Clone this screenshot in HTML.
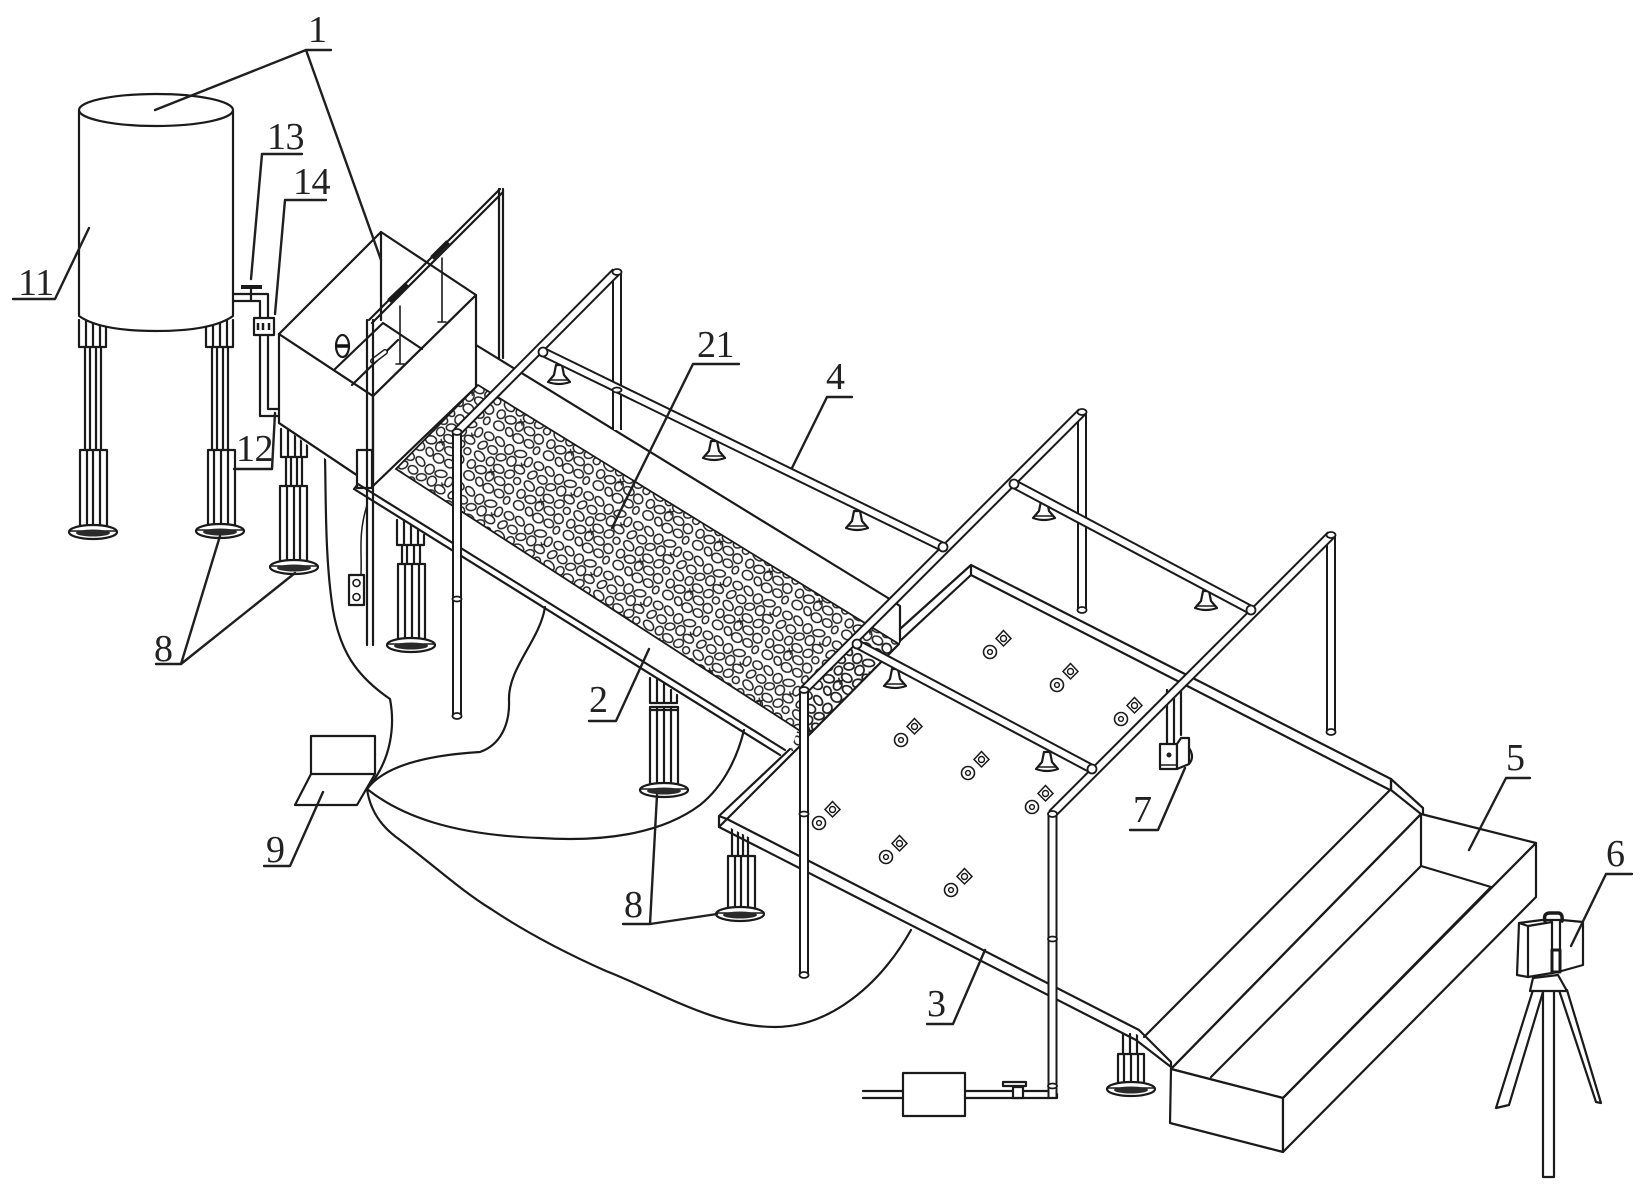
<!DOCTYPE html>
<html><head><meta charset="utf-8"><style>
html,body{margin:0;padding:0;background:#fff}
svg{display:block;filter:blur(.35px)}
text{font-family:"Liberation Serif",serif;font-size:38px;fill:#222;letter-spacing:-.5px}
.l{fill:none;stroke:#1a1a1a;stroke-width:2.200;stroke-linecap:round;stroke-linejoin:round}
.t{fill:none;stroke:#1a1a1a;stroke-width:1.600;stroke-linecap:round;stroke-linejoin:round}
.w{fill:#fff;stroke:#1a1a1a;stroke-width:2.200;stroke-linejoin:round}
.ld{fill:none;stroke:#1f1f1f;stroke-width:2.400;stroke-linecap:round;stroke-linejoin:round}
</style></head><body>
<svg width="1646" height="1192" viewBox="0 0 1646 1192" xmlns="http://www.w3.org/2000/svg">
<defs>
<pattern id="st" width="58" height="58" patternUnits="userSpaceOnUse" patternTransform="rotate(31)">
<g fill="none" stroke="#222" stroke-width="1.500">
<ellipse cx="6" cy="6" rx="5" ry="4"/><ellipse cx="18" cy="5" rx="5.500" ry="3.500" transform="rotate(20 18 5)"/><ellipse cx="30" cy="7" rx="4.500" ry="5"/><ellipse cx="42" cy="5" rx="6" ry="3.500" transform="rotate(-25 42 5)"/><ellipse cx="53" cy="8" rx="3.500" ry="5"/>
<ellipse cx="5" cy="17" rx="3.500" ry="5" transform="rotate(30 5 17)"/><ellipse cx="16" cy="16" rx="5" ry="4"/><ellipse cx="27" cy="18" rx="5" ry="3.500" transform="rotate(-35 27 18)"/><ellipse cx="38" cy="16" rx="4.500" ry="5"/><ellipse cx="49" cy="19" rx="5.500" ry="4"/>
<ellipse cx="8" cy="28" rx="6" ry="4" transform="rotate(15 8 28)"/><ellipse cx="20" cy="27" rx="4" ry="4.500"/><ellipse cx="31" cy="29" rx="5.500" ry="4"/><ellipse cx="43" cy="28" rx="4" ry="5" transform="rotate(40 43 28)"/><ellipse cx="53" cy="30" rx="3.500" ry="3.500"/>
<ellipse cx="5" cy="39" rx="4" ry="4.500"/><ellipse cx="16" cy="39" rx="5.500" ry="4" transform="rotate(-20 16 39)"/><ellipse cx="27" cy="40" rx="4" ry="5"/><ellipse cx="38" cy="39" rx="5.500" ry="4"/><ellipse cx="50" cy="41" rx="5" ry="4.500" transform="rotate(25 50 41)"/>
<ellipse cx="9" cy="50" rx="5.500" ry="4.500"/><ellipse cx="21" cy="50" rx="4.500" ry="3.500" transform="rotate(35 21 50)"/><ellipse cx="32" cy="51" rx="5.500" ry="4.500"/><ellipse cx="44" cy="50" rx="5" ry="4"/><ellipse cx="54" cy="52" rx="3" ry="4"/>
</g>
<path d="M24 33l5 5M29 33l-5 5M47 12l4 4M51 12l-4 4" stroke="#222" stroke-width="1.300"/>
</pattern>
<g id="foot"><ellipse cx="0" cy="0" rx="24" ry="7" fill="#fff" stroke="#1a1a1a" stroke-width="2.200"/><path d="M-24-1H24" stroke="#1a1a1a" stroke-width="1.500"/><ellipse cx="0" cy="1" rx="17" ry="3.500" fill="#2a2a2a"/></g>
<g id="spr"><path d="M-3-13H3L5-3 11 4Q0 8-11 4L-5-3Z" fill="#fff" stroke="#1a1a1a" stroke-width="2.200" stroke-linejoin="round"/><path d="M-10 2H10" stroke="#1a1a1a" stroke-width="1.500"/></g>
<g id="sen"><circle r="6.500" fill="#fff" stroke="#1a1a1a" stroke-width="1.600"/><circle r="2.400" fill="none" stroke="#1a1a1a" stroke-width="1.400"/><path d="M13.500-21.500L21-13.500 13.500-6 6-13.500Z" fill="#fff" stroke="#1a1a1a" stroke-width="1.500"/><circle cx="13.500" cy="-13.500" r="3" fill="none" stroke="#1a1a1a" stroke-width="1.400"/></g>
<g id="pa"><path d="M543 352L943 547"/><path d="M857 644L1092 769"/><path d="M1014 484L1251 610"/></g>
<g id="pb"><path d="M457 432L616 272"/><path d="M804 690L1082 412"/><path d="M1052 814L1331 535"/></g>
<g id="pv"><path d="M457 432V716"/><path d="M617 272V430"/><path d="M1082 412V610"/><path d="M1331 535V732"/><path d="M804 690V975"/><path d="M1052.500 814V1098"/></g>
</defs>
<rect width="1646" height="1192" fill="#fff"/>

<!-- legs -->
<g class="l">
<path d="M79 320V347H106V320M86 320V347M93 320V347M100 320V347M85 347V450M90 347V450M96 347V450M101 347V450M80 450H107V528H80ZM87 450V528M93 450V528M100 450V528"/>
<path d="M206 320V347H233V320M213 320V347M220 320V347M227 320V347M212 347V450M217 347V450M223 347V450M228 347V450M208 450H235V528H208ZM214 450V528M221 450V528M228 450V528"/>
<path d="M281 429V457H307V429M288 429V457M295 429V457M301 429V457M286 457V486M291 457V486M297 457V486M302 457V486M280 486H307V562H280ZM287 486V562M294 486V562M300 486V562"/>
<path d="M397 520V545H424V535M404 520V545M411 525V545M418 530V545M402 545V564M407 545V564M414 545V564M420 545V564M398 564H425V640H398ZM405 564V640M412 564V640M419 564V640"/>
<path d="M650 678V703H677V695M657 680V703M664 684V703M671 690V703M650 707H678V785H650ZM650 710H678M657 707V785M664 707V785M671 707V785"/>
<path d="M732 825V856M738 828V856M743 832V856M748 835V856M728 856H755V909H728ZM735 856V909M741 856V909M748 856V909"/>
<path d="M1123 1034V1054M1130 1034V1054M1137 1034V1054M1118 1054H1144V1086H1118ZM1124 1054V1086M1131 1054V1086M1138 1054V1086"/>
</g>
<use href="#foot" x="93" y="532"/><use href="#foot" x="220" y="531"/><use href="#foot" x="294" y="567"/><use href="#foot" x="411" y="645"/><use href="#foot" x="664" y="790"/><use href="#foot" x="740" y="914"/><use href="#foot" x="1131" y="1089"/>

<!-- tank -->
<path class="w" d="M79 110V316Q100 331 156 331Q212 331 233 316V110Z"/>
<ellipse class="w" cx="156" cy="110" rx="77" ry="16"/>

<!-- water pipes -->
<g class="l">
<path d="M233 294H268V409H279M233 301H260V416H279"/>
<path d="M251 287V300"/>
</g>
<path d="M241 287H262" stroke="#1a1a1a" stroke-width="4"/>
<rect class="w" x="254" y="318" width="20" height="17"/>
<path d="M258 323v7M263 323v7M269 323v7" stroke="#1a1a1a" stroke-width="2.500"/>

<!-- wires -->
<g class="l">
<path d="M325 457C326 500 325 560 333 610C340 650 355 675 390 699C395 725 392 760 367 789"/>
<path d="M367 789C385 765 430 755 480 752C500 745 510 725 509 700C508 668 540 640 545 607"/>
<path d="M367 789C400 815 450 835 540 838C600 842 660 835 700 805C725 785 738 755 744 730"/>
<path d="M367 789C370 810 380 825 396 837C430 862 460 890 491 909C530 935 570 955 606 971C660 992 715 1027 775 1027C830 1027 880 985 911 930"/>
<path d="M361 574C362 550 358 535 367 505" stroke-width="1.500"/>
</g>

<!-- channel -->
<polygon points="279,423 476,345 888,598 900,606 900,644 808,736 784,751 358,484" fill="#fff"/>
<polygon points="478,385 899,644 808,736 396,469" fill="url(#st)" stroke="#1a1a1a" stroke-width="1.800"/>
<path class="l" d="M476 345L888 598"/>
<path class="l" d="M888 598L900 606V644"/>

<!-- box -->
<polygon class="w" points="279,334 373,396 373,486 279,423"/>
<polygon class="w" points="373,396 476,295 476,387 373,486"/>
<polygon class="w" points="279,334 381,232 476,295 373,396"/>
<path class="l" d="M335 369L383 323L422 349M352 385L398 340M381 232V320"/>
<path class="t" d="M400 306V364M442 258V322M396 364H404M438 322H446"/>
<ellipse class="w" cx="342.500" cy="346" rx="6.500" ry="11" stroke-width="1.500"/><path d="M336 346H349" stroke="#111" stroke-width="3.500"/>
<path d="M373 361L385 352" stroke="#1a1a1a" stroke-width="6" stroke-linecap="round"/><path d="M373 361L385 352" stroke="#fff" stroke-width="3" stroke-linecap="round"/>
<path class="l" d="M279 423L373 486"/>
<path d="M499 189V358M503 189V358" class="l"/>
<path d="M369 320L500 189M372 323L503 192" class="l" stroke-width="2.500"/>
<path d="M389 301L407 284M432 258L448 242" stroke="#1a1a1a" stroke-width="5"/>

<rect class="w" x="357" y="450" width="15" height="38"/>
<path class="l" d="M354 489L780 755M358 484L785 750M354 489L358 484"/>
<path d="M367 320V645M373 320V645" class="l" stroke-width="2.600"/>
<rect class="w" x="349" y="575" width="15" height="30"/>
<circle cx="356.500" cy="583" r="3.500" class="t"/><circle cx="356.500" cy="597" r="3.500" class="t"/>

<!-- plate 3 -->
<polygon points="719,822 801,748 808,736 899,644 971,575 1390,790 1171,1067 1140,1036" fill="#fff"/>
<polygon points="899,644 808,736 801,748 790,752 808,700 860,640" fill="url(#st)" stroke="none"/>
<path class="l" d="M899 644L808 736"/>
<path class="l" d="M719 816L790 749M727 819L799 747M719 816V827L727 819M719 816L727 819"/>
<path class="l" d="M727 819L1139 1030L1171 1062V1067M719 827L1136 1040L1171 1067"/>
<path class="l" d="M900 629L971 565L1391 779V790L1421 814M901 640L971 575L1390 790M971 565V575M1391 779L1423 808V814"/>

<!-- basin -->
<polygon class="w" points="1171,1069 1283,1098 1536,843 1421,814"/>
<polygon class="w" points="1171,1069 1283,1098 1283,1152 1170,1123"/>
<polygon class="w" points="1283,1098 1536,843 1536,897 1283,1152"/>
<path class="l" d="M1390 790L1144 1037M1421 814L1171 1069M1421 814V866L1211 1077M1421 866L1491 887L1283 1098"/>
<path class="l" d="M1391 779V790"/>

<!-- sensors -->
<use href="#sen" x="990" y="652"/><use href="#sen" x="1057" y="685"/><use href="#sen" x="1121" y="719"/>
<use href="#sen" x="901" y="740"/><use href="#sen" x="968" y="773"/><use href="#sen" x="1032" y="807"/>
<use href="#sen" x="819" y="823"/><use href="#sen" x="886" y="857"/><use href="#sen" x="951" y="890"/>

<!-- camera 7 support -->
<path class="l" d="M1167 690V744M1174 690V744M1181 682V735"/>
<path class="w" d="M1160 744H1177V769H1160Z"/><path class="w" d="M1177 744L1181 738H1189V764L1177 769Z"/>
<path class="t" d="M1160 765H1177"/><circle cx="1169" cy="755" r="2.500" fill="#222"/>
<path class="l" d="M1189 748Q1195 757 1189 764"/>

<!-- sprinklers -->
<use href="#spr" x="559" y="378"/><use href="#spr" x="714" y="454"/><use href="#spr" x="857" y="524"/>
<use href="#spr" x="1044" y="514"/><use href="#spr" x="1206" y="604"/>
<use href="#spr" x="895" y="682"/><use href="#spr" x="1047" y="765"/>

<!-- pipes -->
<g fill="none" stroke-linecap="butt">
<use href="#pv" stroke="#1a1a1a" stroke-width="10"/><use href="#pv" stroke="#fff" stroke-width="6"/>
<use href="#pa" stroke="#1a1a1a" stroke-width="10"/><use href="#pa" stroke="#fff" stroke-width="6"/>
<use href="#pb" stroke="#1a1a1a" stroke-width="10"/><use href="#pb" stroke="#fff" stroke-width="6"/>
</g>
<g fill="#fff" stroke="#1a1a1a" stroke-width="1.800">
<circle cx="543" cy="352" r="4.500"/><circle cx="943" cy="547" r="4.500"/><circle cx="857" cy="644" r="4.500"/><circle cx="1092" cy="769" r="4.500"/><circle cx="1014" cy="484" r="4.500"/><circle cx="1251" cy="610" r="4.500"/>
<ellipse cx="457" cy="432" rx="4.500" ry="3"/><ellipse cx="617" cy="272" rx="4.500" ry="3"/><ellipse cx="1082" cy="412" rx="4.500" ry="3"/><ellipse cx="1331" cy="535" rx="4.500" ry="3"/><ellipse cx="804" cy="690" rx="4.500" ry="3"/><ellipse cx="1052.500" cy="814" rx="4.500" ry="3"/>
<ellipse cx="457" cy="716" rx="4.500" ry="3"/><ellipse cx="1082" cy="610" rx="4.500" ry="3"/><ellipse cx="1331" cy="732" rx="4.500" ry="3"/><ellipse cx="804" cy="975" rx="4.500" ry="3"/>
<ellipse cx="457" cy="599" rx="4.500" ry="2.500"/><ellipse cx="617" cy="390" rx="4.500" ry="2.500"/><ellipse cx="804" cy="814" rx="4.500" ry="2.500"/><ellipse cx="1052.500" cy="939" rx="4.500" ry="2.500"/><ellipse cx="1052.500" cy="1086" rx="4.500" ry="2.500"/>
</g>
<path class="l" d="M1048 1098H1057V1094"/>

<!-- outlet -->
<path class="l" d="M863 1091H903M863 1098H903M965 1091H1048M965 1098H1048"/>
<rect class="w" x="903" y="1073" width="62" height="43"/>
<path class="w" d="M1013 1087H1023V1098H1013Z" stroke-width="1.800"/>
<path class="w" d="M1003 1082H1026V1086H1003Z" stroke-width="2"/>

<!-- laptop -->
<path class="l" d="M311 774V736H375V774M311 774H375L357 805H295Z"/>

<!-- camera 6 + tripod -->
<g class="l">
<path d="M1533 990L1496 1108L1509 1105L1543 992M1559 990L1596 1102L1601 1103L1567 990"/>
<path d="M1543 990V1177H1554V990"/>
<path d="M1533 978L1558 975L1567 991H1530Z" fill="#fff"/>
<path d="M1519 923L1517 975L1528 977L1558 972L1583 965V922L1562 920H1542L1519 923Z" fill="#fff"/>
<path d="M1528 926V977M1552 922V972M1560 922V972M1519 923L1528 926L1552 922"/>
<path d="M1545 921Q1543 913 1550 913H1558Q1563 913 1562 921" stroke-width="3.500"/>
<path d="M1552 950L1560 950V972H1552Z" stroke-width="3"/>
</g>

<!-- leaders -->
<g class="ld">
<path d="M331 50H306L155 110M306 50L381 260"/>
<path d="M302 154H262L251 279"/>
<path d="M326 200H285L275 314"/>
<path d="M13 299H55L89 228"/>
<path d="M234 469H272L275 413"/>
<path d="M156 664H181L220 536M181 664L295 573"/>
<path d="M589 721H616L649 649"/>
<path d="M623 924H650L657 795M650 924L717 914"/>
<path d="M739 364H693L612 528"/>
<path d="M852 397H827L792 468"/>
<path d="M1130 830H1158L1185 768"/>
<path d="M264 866H290L323 792"/>
<path d="M927 1024H953L985 950"/>
<path d="M1530 778H1506L1469 850"/>
<path d="M1632 874H1606L1571 946"/>
</g>

<!-- labels -->
<text x="308" y="42">1</text>
<text x="267" y="149">13</text>
<text x="293" y="194">14</text>
<text x="18" y="295">11</text>
<text x="236" y="461">12</text>
<text x="154" y="661">8</text>
<text x="589" y="712">2</text>
<text x="624" y="917">8</text>
<text x="697" y="357">21</text>
<text x="826" y="389">4</text>
<text x="1133" y="822">7</text>
<text x="266" y="862">9</text>
<text x="927" y="1016">3</text>
<text x="1506" y="770">5</text>
<text x="1606" y="866">6</text>
</svg>
</body></html>
